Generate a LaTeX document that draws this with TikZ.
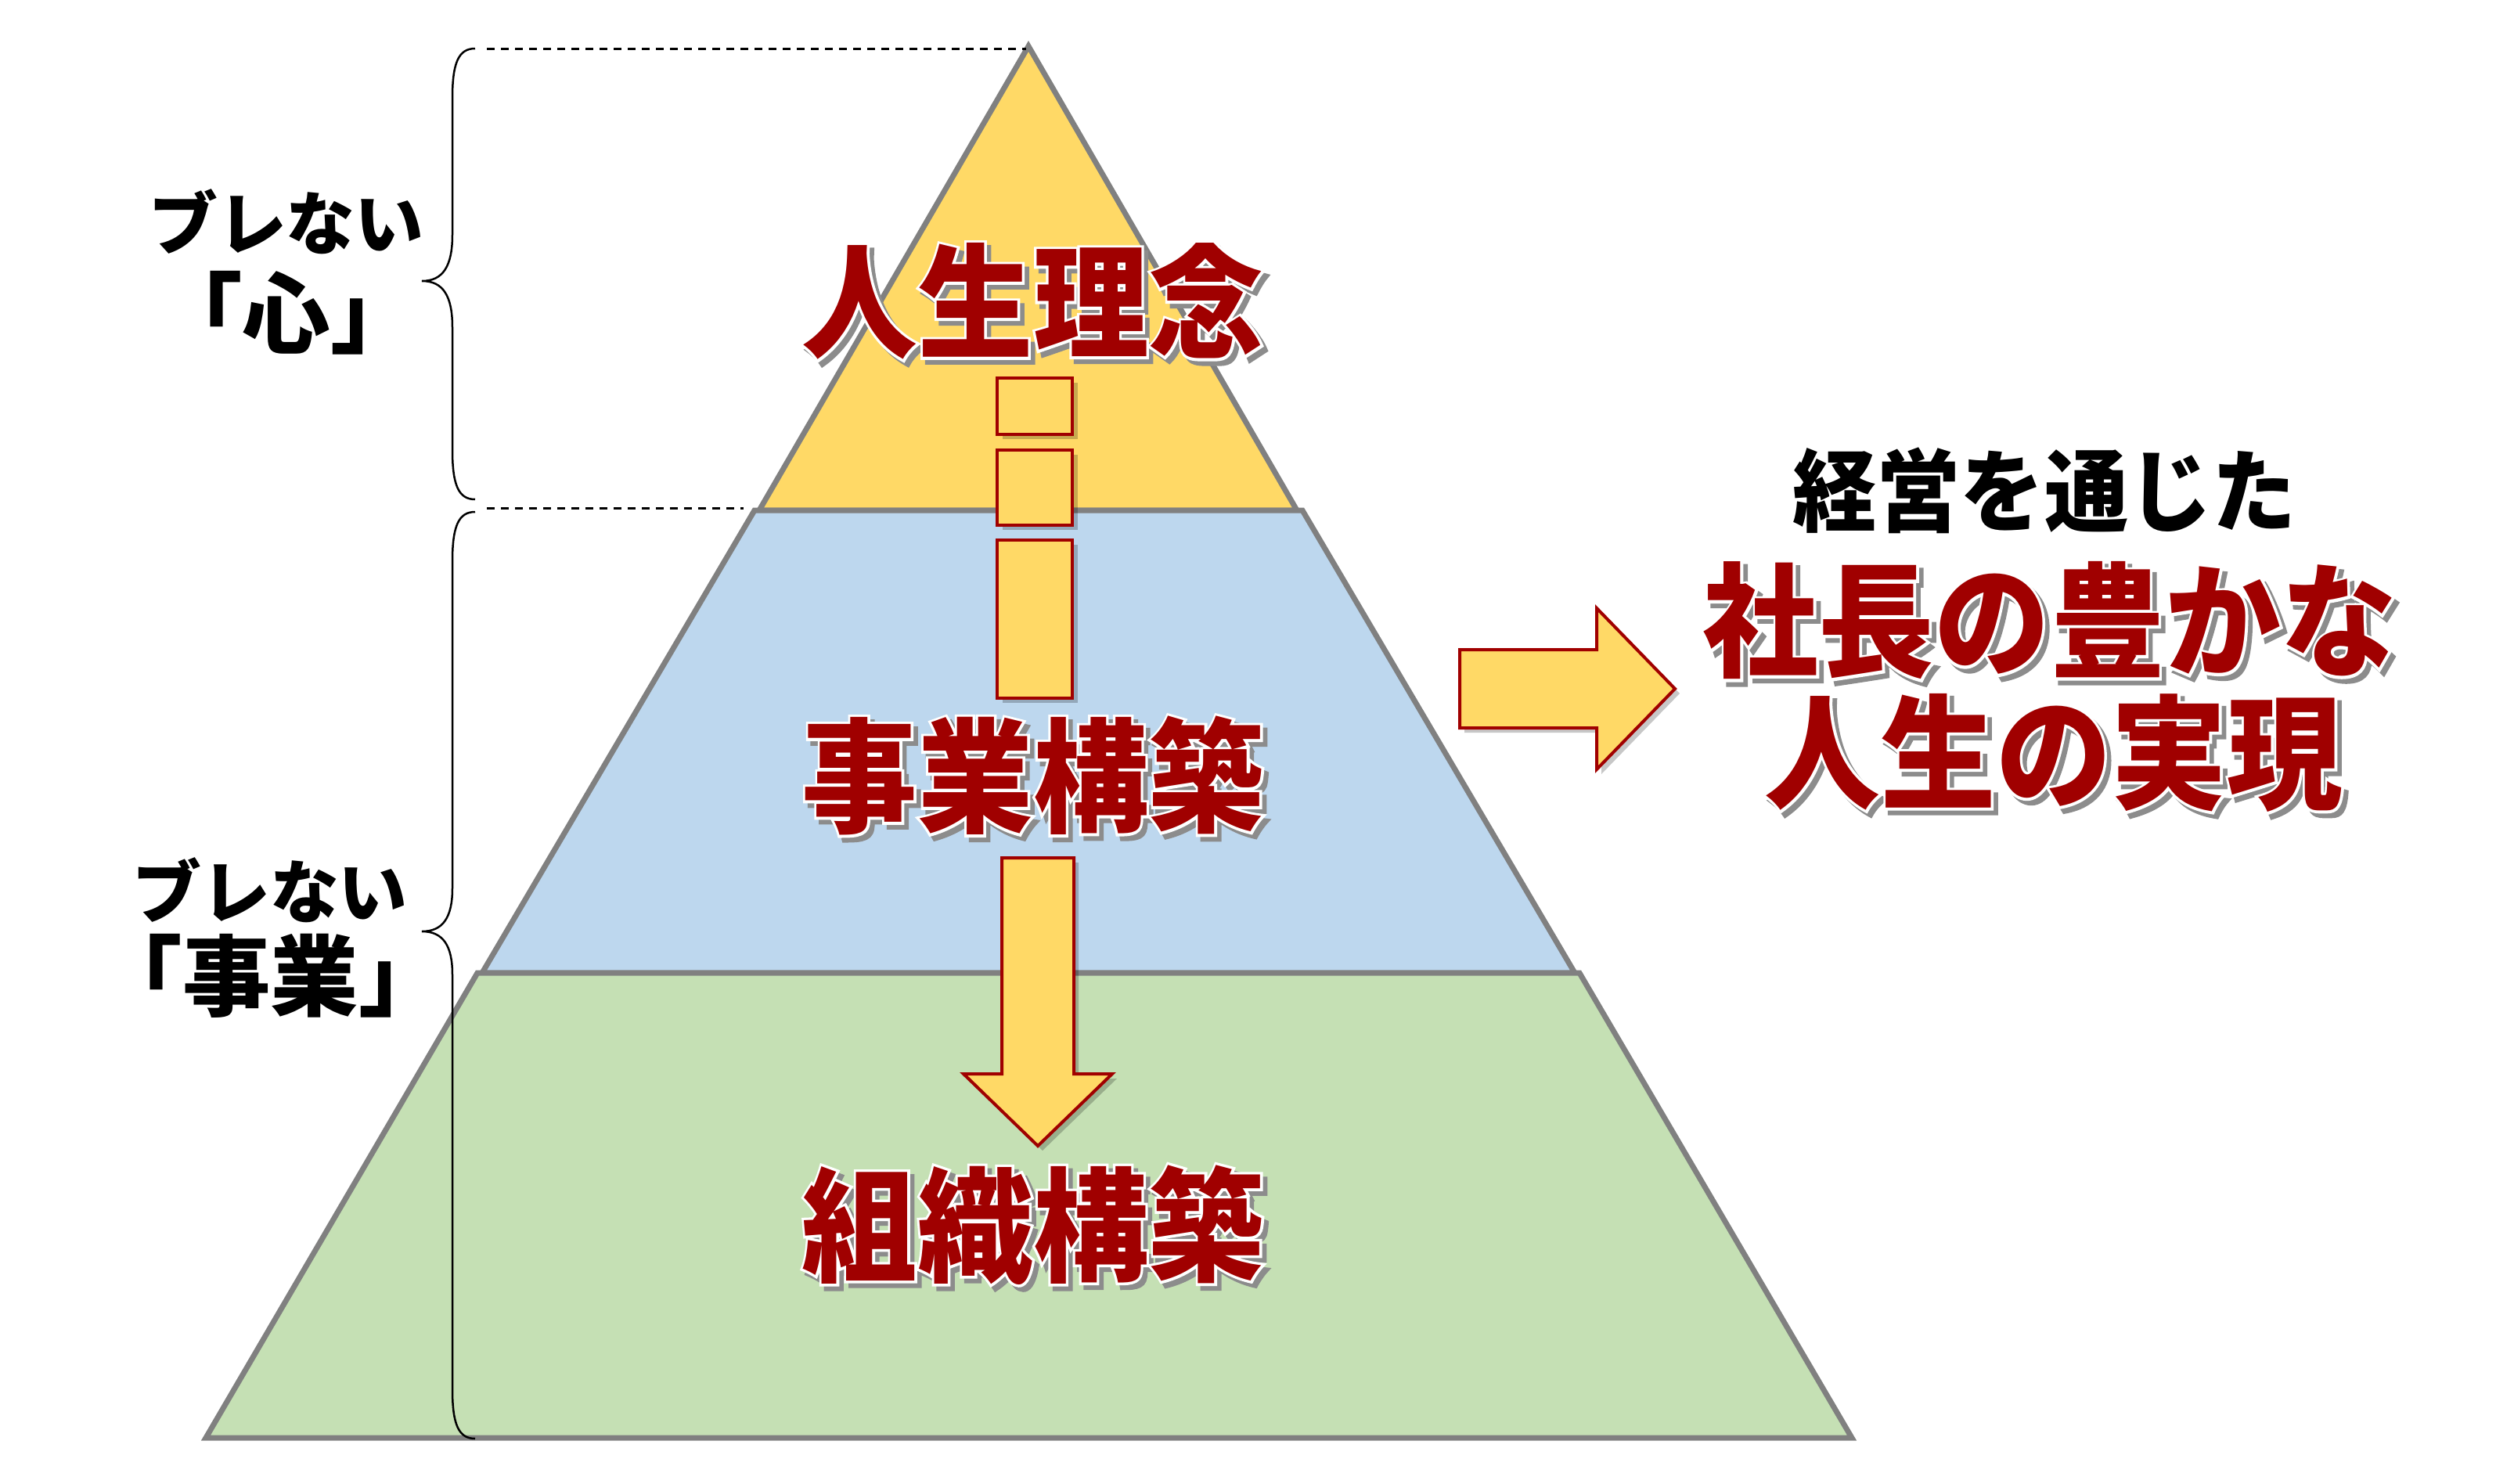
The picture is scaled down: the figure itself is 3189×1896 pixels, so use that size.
\documentclass[tikz,border=0pt]{standalone}
\usepackage{fontspec}
\newfontfamily\cjk{Noto Sans CJK JP}
\newfontfamily\cjkheavy{Noto Sans CJK JP Black}
\newfontfamily\cjkfat{Noto Sans CJK JP Black}[FakeBold=4.3]
\definecolor{pyrgray}{HTML}{808080}
\definecolor{lyellow}{HTML}{FFD966}
\definecolor{lblue}{HTML}{BDD7EE}
\definecolor{lgreen}{HTML}{C5E0B4}
\definecolor{dred}{HTML}{A00000}
\definecolor{shgray}{HTML}{8C8C8C}
\newcommand\cpy[4]{\rlap{\hspace*{#1}\raisebox{#2}{\textcolor{#3}{#4}}}}
\newcommand\fancy[1]{\leavevmode\scalebox{1}[1.07]{%
  \cpy{1.6pt}{-1.6pt}{shgray}{\cjkfat #1}%
  \cpy{0pt}{0pt}{white}{\cjkfat #1}%
  \textcolor{dred}{#1}}}
\begin{document}
\begin{tikzpicture}[x=0.01cm,y=-0.01cm,
  pyr/.style={draw=pyrgray,line width=0.07cm,line join=miter},
  dashline/.style={draw=black,line width=0.03cm,dash pattern=on 0.10cm off 0.08cm},
  bracestyle/.style={draw=black,line width=0.025cm},
  lblsmall/.style={font=\cjk\bfseries\fontsize{25}{30}\selectfont,inner sep=0pt},
  lblbig/.style={font=\cjk\bfseries\fontsize{32}{38}\selectfont,inner sep=0pt},
  bigred/.style={font=\cjkheavy\fontsize{42}{50}\selectfont,inner sep=0pt},
  subttl/.style={font=\cjkheavy\fontsize{30.5}{36}\selectfont,inner sep=0pt},
  blockarrow/.style={fill=lyellow,draw=dred,line width=0.04cm,line join=miter},
  shadowfill/.style={fill=black,opacity=0.22}]
\useasboundingbox (0,0) rectangle (3189,1896);
% pyramid layers (three separate outlined shapes)
\coordinate (apex) at (1314,59);
\coordinate (yl) at (970,652);
\coordinate (yr) at (1657,652);
\coordinate (btl) at (964,652);
\coordinate (btr) at (1664,652);
\coordinate (bbl) at (616,1243);
\coordinate (bbr) at (2012,1243);
\coordinate (gtl) at (610,1243);
\coordinate (gtr) at (2018,1243);
\coordinate (gbl) at (263,1837);
\coordinate (gbr) at (2366,1837);
\filldraw[pyr,fill=lyellow] (apex) -- (yl) -- (yr) -- cycle;
\filldraw[pyr,fill=lblue] (btl) -- (bbl) -- (bbr) -- (btr) -- cycle;
\filldraw[pyr,fill=lgreen] (gtl) -- (gbl) -- (gbr) -- (gtr) -- cycle;
% dashed guide lines
\coordinate (d1s) at (622,62);
\coordinate (d1e) at (1311,62);
\coordinate (d2s) at (622,649);
\coordinate (d2e) at (950,649);
\draw[dashline] (d1s) -- (d1e);
\draw[dashline] (d2s) -- (d2e);
% braces
\coordinate (b1top) at (607,62);
\coordinate (b1tip) at (539,359);
\coordinate (b1bot) at (607,638);
\draw[bracestyle] (b1top) .. controls (586,62) and (578,80) .. (578,125)
  -- (578,300) .. controls (578,340) and (566,359) .. (b1tip)
  .. controls (566,359) and (578,378) .. (578,418)
  -- (578,575) .. controls (578,620) and (586,638) .. (b1bot);
\coordinate (b2top) at (607,654);
\coordinate (b2tip) at (539,1190);
\coordinate (b2bot) at (607,1838);
\draw[bracestyle] (b2top) .. controls (586,654) and (578,672) .. (578,717)
  -- (578,1135) .. controls (578,1172) and (566,1190) .. (b2tip)
  .. controls (566,1190) and (578,1208) .. (578,1245)
  -- (578,1775) .. controls (578,1820) and (586,1838) .. (b2bot);
% left labels
\node[lblsmall] (kokoroA) at (366,283) {ブレない};
\node[lblbig] (kokoroB) at (366,400) {「心」};
\node[lblsmall] (jigyoA) at (345,1137) {ブレない};
\node[lblbig] (jigyoB) at (346,1247) {「事業」};
% dashed column (rectangles)
\foreach \ya/\yb in {483/555,575/671,690/892}{
  \fill[shadowfill] (1281,\ya+6) rectangle (1377,\yb+6);
  \draw[blockarrow] (1274,\ya) rectangle (1370,\yb);
}
% down arrow
\fill[shadowfill] (1286,1102) -- (1378,1102) -- (1378,1378) -- (1427,1378) -- (1332,1470) -- (1237,1378) -- (1286,1378) -- cycle;
\draw[blockarrow] (1280,1096) -- (1372,1096) -- (1372,1372) -- (1421,1372) -- (1326,1464) -- (1231,1372) -- (1280,1372) -- cycle;
% right arrow
\fill[shadowfill] (1871,836) -- (2046,836) -- (2046,783) -- (2146,886) -- (2046,989) -- (2046,936) -- (1871,936) -- cycle;
\draw[blockarrow] (1865,830) -- (2040,830) -- (2040,777) -- (2140,880) -- (2040,983) -- (2040,930) -- (1865,930) -- cycle;
% pyramid texts
\node[bigred] (rinen) at (1320,388) {\fancy{人生理念}};
\node[bigred] (jigyokouchiku) at (1320,994) {\fancy{事業構築}};
\node[bigred] (soshiki) at (1320,1568) {\fancy{組織構築}};
% right texts
\node[subttl] (keiei) at (2612,627) {\scalebox{1}[1.07]{経営を通じた}};
\node[bigred] (yutaka) at (2619,796) {\fancy{社長の豊かな}};
\node[bigred] (jitsugen) at (2624,965) {\fancy{人生の実現}};
\end{tikzpicture}
\end{document}
